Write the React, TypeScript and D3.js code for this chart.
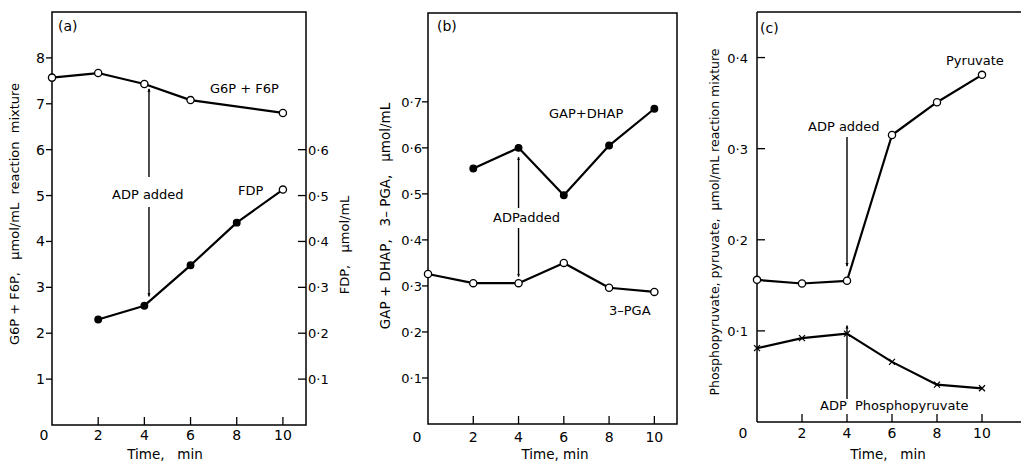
import { useEffect, useRef } from 'react'
import * as d3 from 'd3'

const WIDTH = 1021
const HEIGHT = 463
const FONT = '"DejaVu Sans", "Liberation Sans", sans-serif'

// Shared x ticks (min)
const X_TICKS = [2, 4, 6, 8, 10]

// Panel (a): hexose monophosphates (left axis) and FDP (right axis)
const A_G6P_TIME = [0, 2, 4, 6, 10]
const A_G6P = [7.57, 7.67, 7.43, 7.08, 6.8]
const A_FDP_TIME = [2, 4, 6, 8, 10]
const A_FDP = [0.23, 0.26, 0.348, 0.441, 0.513]
const A_FDP_OPEN = [false, false, false, false, true]
const A_LEFT_TICKS = [1, 2, 3, 4, 5, 6, 7, 8]
const A_RIGHT_TICKS = [0.1, 0.2, 0.3, 0.4, 0.5, 0.6]

// Panel (b): triose phosphates and 3-PGA
const B_GAP_TIME = [2, 4, 6, 8, 10]
const B_GAP = [0.555, 0.6, 0.497, 0.605, 0.685]
const B_PGA_TIME = [0, 2, 4, 6, 8, 10]
const B_PGA = [0.326, 0.306, 0.306, 0.35, 0.296, 0.287]
const B_TICKS = [0.1, 0.2, 0.3, 0.4, 0.5, 0.6, 0.7]

// Panel (c): pyruvate and phosphopyruvate
const C_TIME = [0, 2, 4, 6, 8, 10]
const C_PYR = [0.156, 0.152, 0.155, 0.315, 0.351, 0.381]
const C_PEP = [0.081, 0.092, 0.097, 0.066, 0.041, 0.037]
const C_TICKS = [0.1, 0.2, 0.3, 0.4]

const fmt = (v: number) => (v < 1 ? d3.format('.1f')(v).replace('.', '·') : String(v))

function App() {
  const svgRef = useRef<SVGSVGElement | null>(null)

  useEffect(() => {
    document.body.style.margin = '0'
    if (!svgRef.current) return
    const svg = d3.select(svgRef.current).attr('width', WIDTH).attr('height', HEIGHT)
    svg.selectAll('*').remove()

    svg.append('defs').append('marker')
      .attr('id', 'head')
      .attr('viewBox', '0 0 10 10')
      .attr('refX', 10).attr('refY', 5)
      .attr('markerWidth', 3.2).attr('markerHeight', 9)
      .attr('markerUnits', 'userSpaceOnUse')
      .attr('orient', 'auto')
      .append('path').attr('d', 'M0,0 L10,5 L0,10 Z').attr('fill', '#000')

    const g = svg.append('g').attr('font-family', FONT).attr('fill', '#000')

    const text = (x: number, y: number, s: string, size = 13, anchor = 'start') =>
      g.append('text').attr('x', x).attr('y', y).attr('font-size', size)
        .attr('text-anchor', anchor).style('white-space', 'pre').text(s)

    const vtext = (x: number, y: number, s: string, size = 12) =>
      g.append('text').attr('transform', `translate(${x},${y}) rotate(-90)`)
        .attr('font-size', size).attr('text-anchor', 'middle')
        .attr('dominant-baseline', 'middle').style('white-space', 'pre').text(s)

    const seg = (x1: number, y1: number, x2: number, y2: number, w = 1.4, head = false) => {
      const l = g.append('line').attr('x1', x1).attr('y1', y1).attr('x2', x2).attr('y2', y2)
        .attr('stroke', '#000').attr('stroke-width', w)
      if (head) l.attr('marker-end', 'url(#head)')
      return l
    }

    const series = (xs: d3.ScaleLinear<number, number>, ys: d3.ScaleLinear<number, number>,
      t: number[], v: number[]) => {
      const line = d3.line<number>().x((_, i) => xs(t[i])).y(d => ys(d))
      g.append('path').attr('d', line(v)).attr('fill', 'none')
        .attr('stroke', '#000').attr('stroke-width', 2.2).attr('stroke-linejoin', 'round')
    }

    const dots = (xs: d3.ScaleLinear<number, number>, ys: d3.ScaleLinear<number, number>,
      t: number[], v: number[], open: boolean[]) => {
      v.forEach((d, i) => {
        g.append('circle').attr('cx', xs(t[i])).attr('cy', ys(d))
          .attr('r', open[i] ? 3.6 : 3.3)
          .attr('fill', open[i] ? '#fff' : '#000')
          .attr('stroke', '#000').attr('stroke-width', 1.3)
      })
    }

    const crosses = (xs: d3.ScaleLinear<number, number>, ys: d3.ScaleLinear<number, number>,
      t: number[], v: number[]) => {
      v.forEach((d, i) => {
        const cx = xs(t[i]), cy = ys(d), s = 3
        seg(cx - s, cy - s, cx + s, cy + s, 1.2)
        seg(cx - s, cy + s, cx + s, cy - s, 1.2)
      })
    }

    const xTicks = (xs: d3.ScaleLinear<number, number>, base: number, labelY: number, zeroDx: number) => {
      X_TICKS.forEach(t => {
        seg(xs(t), base, xs(t), base - 8, 1.3)
        text(xs(t), labelY, String(t), 14, 'middle')
      })
      text(xs(0) + zeroDx, labelY, '0', 14, 'middle')
    }

    // ---------- Panel (a) ----------
    const ax = d3.scaleLinear().domain([0, 11]).range([52, 306])
    const ay = d3.scaleLinear().domain([0, 9]).range([425, 12])
    const ayR = d3.scaleLinear().domain([0, 0.9]).range([425, 12])
    g.append('rect').attr('x', ax(0)).attr('y', ay(9)).attr('width', ax(11) - ax(0))
      .attr('height', ay(0) - ay(9)).attr('fill', 'none').attr('stroke', '#000').attr('stroke-width', 1.5)
    A_LEFT_TICKS.forEach(v => {
      seg(ax(0) - 6, ay(v), ax(0), ay(v), 1.3)
      text(ax(0) - 7, ay(v) + 5, fmt(v), 14, 'end')
    })
    A_RIGHT_TICKS.forEach(v => {
      seg(ax(11) - 8, ayR(v), ax(11), ayR(v), 1.3)
      text(ax(11) + 2, ayR(v) + 5, fmt(v), 13)
    })
    xTicks(ax, ay(0), 440, -8)
    series(ax, ay, A_G6P_TIME, A_G6P)
    dots(ax, ay, A_G6P_TIME, A_G6P, A_G6P.map(() => true))
    series(ax, ayR, A_FDP_TIME, A_FDP)
    dots(ax, ayR, A_FDP_TIME, A_FDP, A_FDP_OPEN)
    text(58, 31, '(a)', 14)
    text(210, 93, 'G6P + F6P', 13)
    text(238, 195, 'FDP', 13)
    text(112, 199, 'ADP added', 13)
    seg(ax(4.2), 177, ax(4.2), ay(7.33), 1.4, true)
    seg(ax(4.2), 207, ax(4.2), ayR(0.28), 1.4, true)
    text(165, 459, 'Time,   min', 13.5, 'middle')
    vtext(15, 214, 'G6P + F6P,   μmol/mL  reaction  mixture', 13)
    vtext(345, 245, 'FDP,   μmol/mL', 13)

    // ---------- Panel (b) ----------
    const bx = d3.scaleLinear().domain([0, 11]).range([428, 677])
    const by = d3.scaleLinear().domain([0, 0.893]).range([424, 13])
    g.append('rect').attr('x', bx(0)).attr('y', by(0.893)).attr('width', bx(11) - bx(0))
      .attr('height', by(0) - by(0.893)).attr('fill', 'none').attr('stroke', '#000').attr('stroke-width', 1.5)
    B_TICKS.forEach(v => {
      seg(bx(0) - 6, by(v), bx(0), by(v), 1.3)
      text(bx(0) - 6, by(v) + 5, fmt(v), 13, 'end')
    })
    xTicks(bx, by(0), 442, -11)
    series(bx, by, B_GAP_TIME, B_GAP)
    dots(bx, by, B_GAP_TIME, B_GAP, B_GAP.map(() => false))
    series(bx, by, B_PGA_TIME, B_PGA)
    dots(bx, by, B_PGA_TIME, B_PGA, B_PGA.map(() => true))
    text(437, 31, '(b)', 14)
    text(549, 118, 'GAP+DHAP', 13)
    text(493, 222, 'ADPadded', 13)
    text(609, 315, '3–PGA', 13)
    seg(bx(4), 208, bx(4), by(0.58), 1.4, true)
    seg(bx(4), 228, bx(4), by(0.32), 1.4, true)
    text(555, 459, 'Time, min', 13.5, 'middle')
    vtext(386, 216, 'GAP + DHAP,   3– PGA,   μmol/mL', 13.5)

    // ---------- Panel (c) ----------
    const cx = d3.scaleLinear().domain([0, 11.8]).range([757, 1022.5])
    const cy = d3.scaleLinear().domain([0, 0.45]).range([422, 12])
    seg(cx(0), cy(0.45), cx(11.8), cy(0.45), 1.5)
    seg(cx(0), cy(0.45), cx(0), cy(0), 1.5)
    seg(cx(0), cy(0), cx(11.8), cy(0), 1.5)
    C_TICKS.forEach(v => {
      seg(cx(0), cy(v), cx(0) + 8, cy(v), 1.3)
      text(cx(0) - 9, cy(v) + 5, fmt(v), 13, 'end')
    })
    xTicks(cx, cy(0), 438, -14)
    series(cx, cy, C_TIME, C_PYR)
    dots(cx, cy, C_TIME, C_PYR, C_PYR.map(() => true))
    series(cx, cy, C_TIME, C_PEP)
    crosses(cx, cy, C_TIME, C_PEP)
    text(760, 33, '(c)', 14)
    text(946, 65, 'Pyruvate', 13)
    text(808, 131, 'ADP added', 13)
    text(820, 410, 'ADP  Phosphopyruvate', 13)
    seg(cx(4), 137, cx(4), cy(0.171), 1.4, true)
    seg(cx(4), 399, cx(4), cy(0.106), 1.4, true)
    text(888, 459, 'Time,   min', 13.5, 'middle')
    vtext(715, 222, 'Phosphopyruvate, pyruvate,  μmol/mL reaction mixture', 12.5)
  }, [])

  return (
    <div>
      <svg ref={svgRef} style={{ display: 'block' }}></svg>
    </div>
  )
}

export default App
